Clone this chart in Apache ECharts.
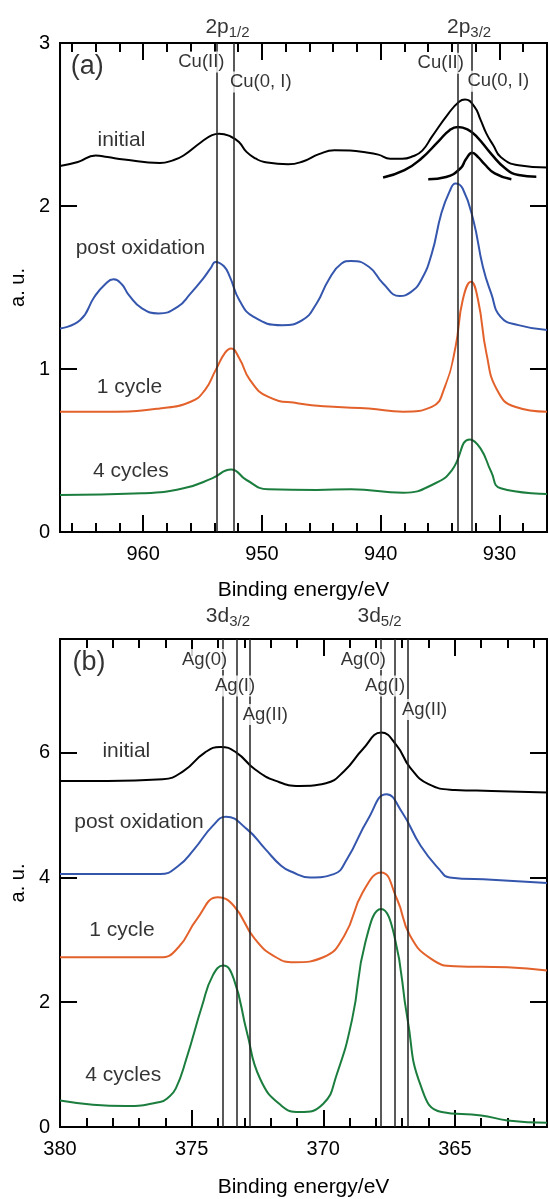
<!DOCTYPE html>
<html>
<head>
<meta charset="utf-8">
<title>Cu 2p / Ag 3d</title>
<script src="https://cdn.jsdelivr.net/npm/echarts@6/dist/echarts.min.js"></script>
<style>
  html, body { margin: 0; padding: 0; background: #fff; }
  #chart { width: 549px; height: 1199px; }
</style>
</head>
<body>
<div id="chart"></div>
<script>
// (a) Cu 2p spectra, [binding energy / eV, intensity / a.u.]
var cuInitial = [[967.0, 2.246], [965.5, 2.27], [964.0, 2.31], [963.0, 2.30], [961.6, 2.285], [958.6, 2.264],
  [957.5, 2.28], [956.6, 2.31], [955.1, 2.393], [954.2, 2.435], [953.6, 2.444], [952.6, 2.425], [951.9, 2.39],
  [951.3, 2.332], [950.5, 2.29], [949.8, 2.27], [947.8, 2.256], [946.5, 2.275], [945.2, 2.318], [943.9, 2.342],
  [942.6, 2.34], [941.3, 2.33], [940.2, 2.315], [939.2, 2.29], [938.2, 2.29], [937.3, 2.305], [936.5, 2.34],
  [935.7, 2.424], [934.3, 2.567], [933.4, 2.64], [932.9, 2.653], [932.1, 2.608], [931.6, 2.53], [931.1, 2.444],
  [930.5, 2.37], [929.9, 2.301], [928.4, 2.25], [926.0, 2.236]];
var cuFitII = [[939.8, 2.175], [938.0, 2.22], [936.6, 2.29], [935.1, 2.40], [934.2, 2.465], [933.5, 2.485],
  [932.7, 2.47], [931.9, 2.424], [930.7, 2.32], [929.5, 2.23], [928.4, 2.19], [926.9, 2.18]];
var cuFitI = [[936.0, 2.164], [934.5, 2.178], [933.3, 2.23], [932.8, 2.29], [932.3, 2.326], [931.8, 2.30],
  [931.3, 2.26], [930.4, 2.20], [929.0, 2.164]];
var cuPostOx = [[967.0, 1.249], [965.3, 1.30], [964.1, 1.443], [963.2, 1.52], [962.5, 1.55], [961.8, 1.52],
  [961.2, 1.453], [960.1, 1.372], [958.7, 1.341], [957.1, 1.381], [956.0, 1.464], [955.0, 1.55], [954.3, 1.62],
  [953.9, 1.657], [953.2, 1.63], [952.7, 1.565], [951.9, 1.422], [950.7, 1.32], [948.3, 1.269], [946.6, 1.30],
  [945.4, 1.402], [944.4, 1.545], [943.3, 1.647], [942.5, 1.663], [941.0, 1.627], [939.8, 1.525], [938.4, 1.448],
  [937.5, 1.47], [936.6, 1.545], [935.7, 1.709], [934.9, 1.954], [934.2, 2.09], [933.7, 2.138], [933.1, 2.107],
  [932.2, 1.913], [931.4, 1.627], [930.7, 1.464], [929.9, 1.32], [928.4, 1.269], [926.0, 1.239]];
var cuCycle1 = [[967.0, 0.738], [963.0, 0.738], [958.6, 0.758], [956.0, 0.799], [954.8, 0.871], [953.9, 0.993],
  [953.1, 1.10], [952.6, 1.126], [951.9, 1.065], [951.0, 0.932], [949.5, 0.830], [946.9, 0.789], [944.0, 0.768],
  [941.0, 0.758], [938.1, 0.738], [935.7, 0.768], [934.6, 0.891], [933.7, 1.136], [933.1, 1.422], [932.4, 1.535],
  [931.8, 1.422], [931.1, 1.096], [930.2, 0.871], [928.7, 0.768], [926.0, 0.738]];
var cuCycle4 = [[967.0, 0.227], [960.1, 0.237], [956.6, 0.268], [954.2, 0.329], [952.6, 0.384], [951.3, 0.319],
  [949.5, 0.262], [945.4, 0.258], [942.5, 0.262], [938.1, 0.241], [935.4, 0.299], [934.0, 0.380], [932.5, 0.568],
  [931.6, 0.513], [930.7, 0.370], [929.9, 0.268], [926.0, 0.233]];

// (b) Ag 3d spectra
var agInitial = [[380.0, 5.546], [378.2, 5.546], [376.1, 5.573], [375.3, 5.706], [374.5, 6.0], [373.9, 6.09],
  [373.3, 6.0], [372.6, 5.733], [371.8, 5.546], [370.9, 5.466], [369.9, 5.509], [369.2, 5.706], [368.5, 6.053],
  [367.8, 6.32], [367.2, 6.106], [366.7, 5.76], [366.0, 5.493], [365.0, 5.402], [363.6, 5.386], [361.5, 5.36]];
var agPostOx = [[380.0, 4.053], [376.2, 4.053], [375.5, 4.186], [374.9, 4.453], [374.2, 4.826], [373.7, 4.97],
  [372.9, 4.773], [372.2, 4.453], [371.6, 4.186], [371.2, 4.09], [370.5, 4.0], [369.6, 4.053], [369.1, 4.29],
  [368.3, 4.933], [367.6, 5.333], [367.0, 5.04], [366.3, 4.506], [365.6, 4.133], [365.2, 4.0], [363.6, 3.962],
  [362.3, 3.93], [361.5, 3.909]];
var agCycle1 = [[380.0, 2.72], [376.2, 2.72], [375.5, 2.88], [374.8, 3.333], [374.0, 3.68], [373.4, 3.546],
  [372.6, 3.013], [371.8, 2.72], [371.1, 2.64], [370.0, 2.72], [369.2, 3.066], [368.5, 3.76], [367.8, 4.08],
  [367.2, 3.653], [366.7, 3.066], [365.9, 2.693], [365.0, 2.576], [363.0, 2.56], [361.5, 2.506]];
var agCycle4 = [[380.0, 0.426], [377.5, 0.336], [376.2, 0.40], [375.9, 0.47], [375.6, 0.62], [375.2, 1.093],
  [374.6, 1.946], [374.2, 2.426], [373.8, 2.586], [373.4, 2.373], [372.9, 1.52], [372.4, 0.773], [371.6, 0.346],
  [370.9, 0.24], [370.0, 0.373], [369.5, 0.826], [368.9, 1.733], [368.4, 2.96], [367.8, 3.493], [367.3, 3.066],
  [366.8, 1.733], [366.3, 0.666], [365.5, 0.24], [364.0, 0.186], [363.0, 0.106], [361.5, 0.069]];

// reference binding energies (vertical lines)
var cuRefLines = [953.8, 952.4, 933.5, 932.3];
var agRefLines = [373.8, 373.3, 372.8, 367.8, 367.3, 366.8];

// ticks
var cuMajorTicks = [930, 940, 950, 960];
var cuMinorTicks = [928, 930, 932, 934, 936, 938, 940, 942, 944, 946, 948, 950, 952, 954, 956, 958, 960, 962, 964, 966];
var agMajorTicks = [365, 370, 375];
var agMinorTicks = [362, 363, 364, 365, 366, 367, 368, 369, 370, 371, 372, 373, 374, 375, 376, 377, 378, 379];
var cuYTicks = [0, 1, 2, 3];
var agYTicks = [0, 2, 4, 6];
var agXLabels = [365, 370, 375, 380];

// text placed at [eV, a.u.]
var cuNotes = [
  {text: '(a)', at: [964.7, 2.853], size: 27, bg: false},
  {text: 'Cu(II)', at: [955.1, 2.883], size: 18.5},
  {text: 'Cu(0, I)', at: [950.1, 2.761], size: 18.5},
  {text: 'Cu(II)', at: [934.95, 2.876], size: 18.5},
  {text: 'Cu(0, I)', at: [930.1, 2.766], size: 18.5},
  {text: '{m|2p}{s|1/2}', at: [952.9, 3.098], bg: false},
  {text: '{m|2p}{s|3/2}', at: [932.56, 3.098], bg: false},
  {text: 'initial', at: [961.83, 2.403], size: 21},
  {text: 'post oxidation', at: [960.23, 1.741], size: 21},
  {text: '1 cycle', at: [961.15, 0.891], size: 21},
  {text: '4 cycles', at: [961.04, 0.376], size: 21}
];
var agNotes = [
  {text: '(b)', at: [378.9, 7.44], size: 27, bg: false},
  {text: 'Ag(0)', at: [374.51, 7.49], size: 18.5},
  {text: 'Ag(I)', at: [373.35, 7.066], size: 18.5},
  {text: 'Ag(II)', at: [372.2, 6.61], size: 18.5},
  {text: 'Ag(0)', at: [368.48, 7.49], size: 18.5},
  {text: 'Ag(I)', at: [367.65, 7.066], size: 18.5},
  {text: 'Ag(II)', at: [366.15, 6.69], size: 18.5},
  {text: '{m|3d}{s|3/2}', at: [373.62, 8.18], bg: false},
  {text: '{m|3d}{s|5/2}', at: [367.86, 8.18], bg: false},
  {text: 'initial', at: [377.48, 6.02], size: 21},
  {text: 'post oxidation', at: [377.0, 4.89], size: 21},
  {text: '1 cycle', at: [377.65, 3.16], size: 21},
  {text: '4 cycles', at: [377.6, 0.826], size: 21}
];

var FONT = '"Liberation Sans", Arial, sans-serif';
var BLUE = '#3556ad', ORANGE = '#e3612b', GREEN = '#1b7d3e';

var chart = echarts.init(document.getElementById('chart'));

function xAxesFor(grid, min, max, major, minor, labels, nameGap) {
  function ax(pos, ticks, len, withLabel) {
    var a = {
      gridIndex: grid, type: 'value', position: pos, min: min, max: max, inverse: true,
      axisLine: {show: false}, splitLine: {show: false},
      axisTick: {show: true, inside: true, length: len, customValues: ticks, lineStyle: {color: '#000', width: 2}},
      axisLabel: {show: false}
    };
    if (withLabel) {
      a.axisLabel = {show: true, customValues: labels, color: '#000', fontSize: 20, fontFamily: FONT, margin: 12};
      a.name = 'Binding energy/eV';
      a.nameLocation = 'middle';
      a.nameGap = nameGap;
      a.nameTextStyle = {color: '#000', fontSize: 21, fontFamily: FONT};
    }
    return a;
  }
  return [ax('bottom', major, 17, true), ax('bottom', minor, 9, false),
          ax('top', major, 17, false), ax('top', minor, 9, false)];
}

function yAxesFor(grid, max, ticks) {
  return [{
    gridIndex: grid, type: 'value', position: 'left', min: 0, max: max,
    axisLine: {show: false}, splitLine: {show: false},
    axisTick: {inside: true, length: 17, customValues: ticks, lineStyle: {color: '#000', width: 2}},
    axisLabel: {customValues: ticks, color: '#000', fontSize: 20, fontFamily: FONT, margin: 10},
    name: 'a. u.', nameLocation: 'middle', nameGap: 30,
    nameTextStyle: {color: '#000', fontSize: 20, fontFamily: FONT}
  }, {
    gridIndex: grid, type: 'value', position: 'right', min: 0, max: max,
    axisLine: {show: false}, splitLine: {show: false},
    axisTick: {inside: true, length: 17, customValues: ticks.slice(1), lineStyle: {color: '#000', width: 2}},
    axisLabel: {show: false}
  }];
}

function curve(xi, yi, data, color, width) {
  return {
    type: 'line', xAxisIndex: xi, yAxisIndex: yi, data: data, showSymbol: false, smooth: 0.5,
    lineStyle: {color: color, width: width || 2}, z: 3, silent: true
  };
}

function refLines(xi, yi, values) {
  return {
    type: 'line', xAxisIndex: xi, yAxisIndex: yi, data: [], z: 2, silent: true,
    markLine: {
      silent: true, symbol: ['none', 'none'], animation: false,
      label: {show: false},
      lineStyle: {color: '#222', width: 1.5, type: 'solid'},
      data: values.map(function (v) { return {xAxis: v}; })
    }
  };
}

function notes(xi, yi, items) {
  return {
    type: 'scatter', xAxisIndex: xi, yAxisIndex: yi, clip: false, silent: true, z: 10,
    symbolSize: 1, itemStyle: {color: 'rgba(0,0,0,0)'},
    data: items.map(function (d) {
      return {
        value: d.at,
        label: {
          formatter: d.text, fontSize: d.size || 21,
          backgroundColor: d.bg === false ? 'transparent' : '#fff'
        }
      };
    }),
    label: {
      show: true, position: 'inside', color: '#000', fontFamily: FONT, padding: [1, 1],
      rich: {
        m: {fontSize: 21, fontFamily: FONT, color: '#000', lineHeight: 26, verticalAlign: 'middle'},
        s: {fontSize: 15, fontFamily: FONT, color: '#000', lineHeight: 12, verticalAlign: 'bottom'}
      }
    }
  };
}

var option = {
  backgroundColor: '#fff',
  animation: false,
  grid: [
    {left: 57, top: 43, width: 490, height: 489, show: true, borderColor: '#000', borderWidth: 2, backgroundColor: 'transparent'},
    {left: 57, top: 639, width: 490, height: 489, show: true, borderColor: '#000', borderWidth: 2, backgroundColor: 'transparent'}
  ],
  xAxis: xAxesFor(0, 926, 967, cuMajorTicks, cuMinorTicks, cuMajorTicks, 48)
    .concat(xAxesFor(1, 361.5, 380, agMajorTicks, agMinorTicks, agXLabels, 50)),
  yAxis: yAxesFor(0, 3, cuYTicks).concat(yAxesFor(1, 7.82, agYTicks)),
  series: [
    refLines(0, 0, cuRefLines),
    curve(0, 0, cuInitial, '#000'),
    curve(0, 0, cuFitII, '#000', 2.5),
    curve(0, 0, cuFitI, '#000', 2.5),
    curve(0, 0, cuPostOx, BLUE),
    curve(0, 0, cuCycle1, ORANGE),
    curve(0, 0, cuCycle4, GREEN),
    notes(0, 0, cuNotes),

    refLines(4, 2, agRefLines),
    curve(4, 2, agInitial, '#000'),
    curve(4, 2, agPostOx, BLUE),
    curve(4, 2, agCycle1, ORANGE),
    curve(4, 2, agCycle4, GREEN),
    notes(4, 2, agNotes)
  ]
};
chart.setOption(option);
</script>
</body>
</html>
